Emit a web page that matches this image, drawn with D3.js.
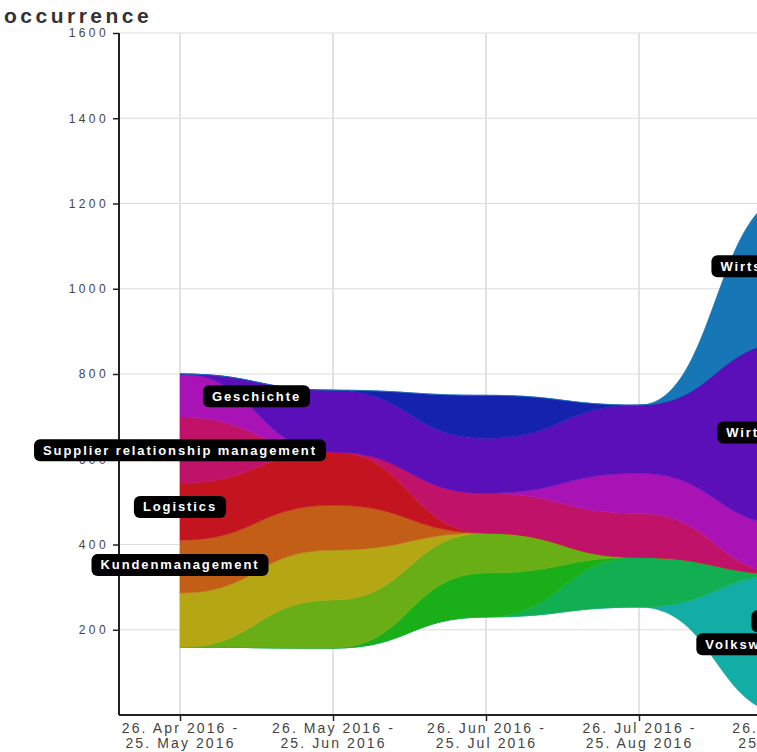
<!DOCTYPE html>
<html><head><meta charset="utf-8">
<script src="https://cdn.jsdelivr.net/npm/d3@7/dist/d3.min.js"></script>
<style>
html,body{margin:0;padding:0;overflow:hidden;background:#fff;}
svg{display:block;}
</style></head><body>
<svg id="chart" width="1000" height="752"></svg>
<script>
// ---- data ----
const periods = [
  "26. Apr 2016 - 25. May 2016",
  "26. May 2016 - 25. Jun 2016",
  "26. Jun 2016 - 25. Jul 2016",
  "26. Jul 2016 - 25. Aug 2016",
  "26. Aug 2016 - 25. Sep 2016",
  "26. Sep 2016 - 25. Oct 2016"
];
const seriesNames = [
  "Volkswirtschaftslehre", "Marketing", "Controlling", "Projektmanagement",
  "Personalmanagement", "Kundenmanagement", "Logistics",
  "Supplier relationship management", "Geschichte", "Wirtschaftsethik",
  "Rechnungswesen", "Wirtschaftspolitik"
];
const seriesColors = [
  "#12ada5", "#12ae52", "#1aae18", "#6aae16", "#b5a614", "#c25e16",
  "#c41420", "#bf1268", "#a912b4", "#5a0fb8", "#1422ae", "#1776b6"
];
// stream baseline (offset of the lowest layer) per period
const baseline = [159, 157, 230, 253, 0, 0];
const volkswirtschaftslehre = [0, 0, 0, 0, 330, 320];
const marketing            = [0, 0, 0, 117, 0, 10];
const controlling          = [0, 0, 103, 0, 0, 0];
const projektmanagement    = [0, 113, 94, 0, 0, 0];
const personalmanagement   = [127, 117, 0, 0, 0, 0];
const kundenmanagement     = [124, 105, 0, 0, 0, 0];
const logistics            = [134, 125, 0, 0, 0, 0];
const supplierRelationship = [155, 0, 93, 103, 0, 0];
const geschichte           = [101, 0, 0, 94, 115, 110];
const wirtschaftsethik     = [0, 145, 129, 160, 430, 440];
const rechnungswesen       = [0, 0, 101, 0, 0, 0];
const wirtschaftspolitik   = [0, 0, 0, 0, 345, 340];
const seriesValues = [
  volkswirtschaftslehre, marketing, controlling, projektmanagement,
  personalmanagement, kundenmanagement, logistics, supplierRelationship,
  geschichte, wirtschaftsethik, rechnungswesen, wirtschaftspolitik
];
const yTicks = [200, 400, 600, 800, 1000, 1200, 1400, 1600];
const yMax = 1600;
// on-chart labels: text, period index, value (data space)
const labelTexts  = ["Geschichte", "Supplier relationship management", "Logistics",
  "Kundenmanagement", "Wirtschaftspolitik", "Wirtschaftsethik",
  "Volkswirtschaftslehre", "Marketing"];
const labelPeriod = [0.5, 0, 0, 0, 4, 4, 4, 4.05];
const labelValue  = [748, 621, 488, 352, 1053, 663, 166, 220];

// ---- layout ----
const svg = d3.select("#chart");
const W = 1000;
const mLeft = 119, mTop = 33, mBottom = 715, firstX = 180, step = 153;
const FONT = "'Liberation Sans', Arial, sans-serif";

const table = periods.map((p, j) => {
  const row = {period: p};
  seriesNames.forEach((n, i) => row[n] = seriesValues[i][j]);
  return row;
});

const x = d3.scalePoint().domain(periods)
  .range([firstX, firstX + step * (periods.length - 1)]);
const y = d3.scaleLinear().domain([0, yMax]).range([mBottom, mTop]);

// grid
const grid = svg.append("g");
grid.selectAll("line.h").data(yTicks).join("line")
  .attr("x1", mLeft).attr("x2", W)
  .attr("y1", d => y(d)).attr("y2", d => y(d))
  .attr("stroke", "#dcdcdc").attr("stroke-width", 1);
grid.selectAll("line.v").data(periods).join("line")
  .attr("x1", d => x(d)).attr("x2", d => x(d))
  .attr("y1", mTop).attr("y2", mBottom)
  .attr("stroke", "#e2e2e2").attr("stroke-width", 2);

// stack with stream baseline offset
const stack = d3.stack().keys(seriesNames)
  .order(d3.stackOrderNone)
  .offset((series, order) => {
    d3.stackOffsetNone(series, order);
    for (const s of series) for (let j = 0; j < s.length; j++) {
      s[j][0] += baseline[j]; s[j][1] += baseline[j];
    }
  });
const layers = stack(table);

const area = d3.area()
  .x(d => x(d.data.period))
  .y0(d => y(d[0])).y1(d => y(d[1]))
  .curve(d3.curveBumpX);

svg.append("g").selectAll("path").data(layers).join("path")
  .attr("d", area)
  .attr("fill", (d, i) => seriesColors[i])
  .attr("stroke", (d, i) => seriesColors[i]).attr("stroke-width", 0.5);

// y axis
const yAxis = svg.append("g").attr("transform", `translate(${mLeft},0)`)
  .call(d3.axisLeft(y).tickValues(yTicks).tickFormat(d3.format("d"))
    .tickSize(6).tickPadding(4).tickSizeOuter(0));
yAxis.select(".domain").attr("stroke", "#222").attr("stroke-width", 2)
  .attr("d", `M0,${mTop}V${mBottom}`);
yAxis.selectAll(".tick line").attr("stroke", "#222").attr("stroke-width", 1.5);
yAxis.selectAll(".tick text").attr("font-family", FONT).attr("font-size", 12)
  .attr("letter-spacing", "3.4px").attr("fill", "#444");

// x axis
const xAxis = svg.append("g").attr("transform", `translate(0,${mBottom})`)
  .call(d3.axisBottom(x).tickSize(6).tickSizeOuter(0));
xAxis.select(".domain").attr("stroke", "#222").attr("stroke-width", 2)
  .attr("d", `M${mLeft},0H${W}`);
xAxis.selectAll(".tick line").attr("stroke", "#222").attr("stroke-width", 1.5);
xAxis.selectAll(".tick text").each(function(d) {
  const parts = d.split(" - ");
  const t = d3.select(this).text(null)
    .attr("font-family", FONT).attr("font-size", 14)
    .attr("letter-spacing", "2.1px").attr("fill", "#444").attr("y", 0).attr("dy", null);
  t.append("tspan").attr("x", 0).attr("y", 18).text(parts[0] + " -");
  t.append("tspan").attr("x", 0).attr("y", 33).text(parts[1]);
});

// title
svg.append("text").attr("x", 4).attr("y", 23)
  .attr("font-family", FONT).attr("font-size", 21).attr("font-weight", "bold")
  .attr("letter-spacing", "3.5px").attr("fill", "#333").text("occurrence");

// labels
const lg = svg.append("g");
labelTexts.forEach((txt, i) => {
  const cx = x(periods[0]) + labelPeriod[i] * x.step();
  const cy = y(labelValue[i]);
  const g = lg.append("g").attr("transform", `translate(${cx},${cy})`);
  const rect = g.append("rect").attr("fill", "#000").attr("rx", 6).attr("ry", 6);
  const t = g.append("text").attr("text-anchor", "middle").attr("y", 4.5)
    .attr("font-family", FONT).attr("font-size", 13).attr("font-weight", "bold")
    .attr("letter-spacing", "1.9px").attr("fill", "#fff").text(txt);
  const w = t.node().getComputedTextLength() + 18;
  rect.attr("x", -w / 2).attr("y", -11).attr("width", w).attr("height", 22);
});
</script>
</body></html>
